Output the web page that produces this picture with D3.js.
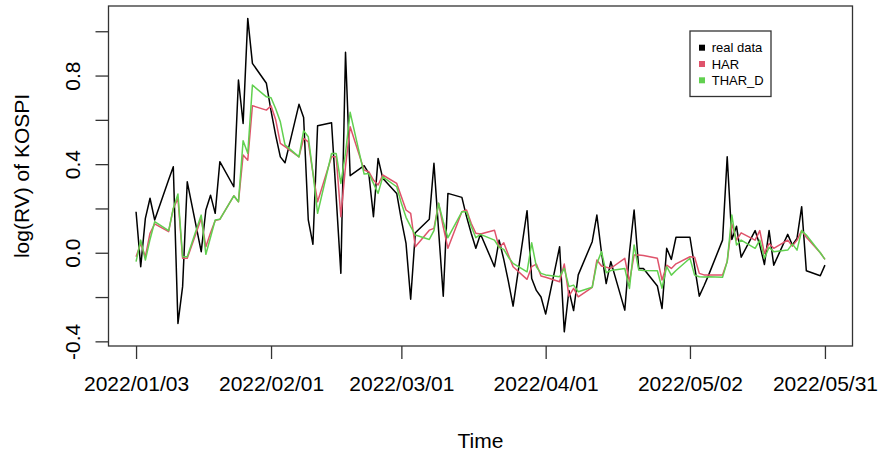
<!DOCTYPE html>
<html>
<head>
<meta charset="utf-8">
<script src="https://cdn.jsdelivr.net/npm/d3@7"></script>
<style>
  body { margin: 0; background: #fff; }
  text { font-family: "Liberation Sans", Arial, sans-serif; fill: #000; }
</style>
</head>
<body>
<div id="chart"></div>
<script>
"use strict";

// trading dates (all weekdays in the data set)
const dates = [
    "2022/01/03","2022/01/04","2022/01/05","2022/01/06","2022/01/07","2022/01/10","2022/01/11","2022/01/12","2022/01/13","2022/01/14",
    "2022/01/17","2022/01/18","2022/01/19","2022/01/20","2022/01/21","2022/01/24","2022/01/25","2022/01/26","2022/01/27","2022/01/28","2022/01/31",
    "2022/02/01","2022/02/02","2022/02/03","2022/02/04","2022/02/07","2022/02/08","2022/02/09","2022/02/10","2022/02/11","2022/02/14",
    "2022/02/15","2022/02/16","2022/02/17","2022/02/18","2022/02/21","2022/02/22","2022/02/23","2022/02/24","2022/02/25","2022/02/28",
    "2022/03/01","2022/03/02","2022/03/03","2022/03/04","2022/03/07","2022/03/08","2022/03/09","2022/03/10","2022/03/11","2022/03/14",
    "2022/03/15","2022/03/16","2022/03/17","2022/03/18","2022/03/21","2022/03/22","2022/03/23","2022/03/24","2022/03/25","2022/03/28",
    "2022/03/29","2022/03/30","2022/03/31",
    "2022/04/01","2022/04/04","2022/04/05","2022/04/06","2022/04/07","2022/04/08","2022/04/11","2022/04/12","2022/04/13","2022/04/14",
    "2022/04/15","2022/04/18","2022/04/19","2022/04/20","2022/04/21","2022/04/22","2022/04/25","2022/04/26","2022/04/27","2022/04/28","2022/04/29",
    "2022/05/02","2022/05/03","2022/05/04","2022/05/05","2022/05/06","2022/05/09","2022/05/10","2022/05/11","2022/05/12","2022/05/13",
    "2022/05/16","2022/05/17","2022/05/18","2022/05/19","2022/05/20","2022/05/23","2022/05/24","2022/05/25","2022/05/26","2022/05/27",
    "2022/05/30","2022/05/31"
];

// log(RV) series
const realData = [
    0.185, -0.063, 0.155, 0.246, 0.148, 0.33, 0.388, -0.319, -0.153, 0.32, 0.005, 0.193, 0.26, 0.178, 0.411, 0.298, 0.78, 0.584, 1.058, 0.855, 0.765,
    0.641, 0.53, 0.433, 0.406, 0.67, 0.611, 0.148, 0.038, 0.573, 0.587, 0.25, -0.093, 0.905, 0.348, 0.393, 0.358, 0.163, 0.426, 0.336, 0.268,
    0.148, 0.042, -0.21, 0.09, 0.151, 0.404, 0.1, -0.196, 0.268, 0.25, 0.163, 0.088, 0.02, 0.085, -0.063, 0.057, -0.03, -0.13, -0.241, 0.19, -0.116, -0.17, -0.2,
    -0.277, 0.027, -0.357, -0.17, -0.261, -0.1, 0.05, 0.17, 0.0, -0.139, -0.04, -0.259, 0.0, 0.193, -0.071, -0.071, -0.15, -0.252, 0.02, -0.03, 0.07,
    0.07, -0.063, -0.196, -0.15, -0.101, 0.057, 0.433, 0.06, 0.12, -0.02, 0.1, 0.035, -0.053, 0.1, -0.056, 0.083, 0.035, 0.065, 0.208, -0.081, -0.104, -0.056
];
const harData = [
    -0.018, 0.042, -0.018, 0.088, 0.13, 0.095, 0.2, 0.245, -0.025, -0.025, 0.155, 0.027, 0.09, 0.145, 0.151, 0.257, 0.23, 0.441, 0.418, 0.664, 0.644,
    0.664, 0.6, 0.494, 0.479, 0.433, 0.516, 0.501, 0.36, 0.23, 0.433, 0.433, 0.163, 0.39, 0.569, 0.373, 0.366, 0.328, 0.306, 0.351, 0.313,
    0.253, 0.193, 0.178, 0.027, 0.102, 0.11, 0.223, 0.117, 0.02, 0.185, 0.193, 0.133, 0.088, 0.085, 0.102, 0.024, 0.045, -0.01, -0.063, -0.12, -0.063, -0.051, -0.105,
    -0.111, -0.131, -0.051, -0.196, -0.161, -0.199, -0.156, -0.033, -0.06, -0.065, -0.07, -0.025, -0.131, -0.01, -0.01, -0.012, -0.025, -0.123, -0.056, -0.071, -0.05,
    -0.018, -0.02, -0.093, -0.1, -0.1, -0.1, -0.04, 0.13, 0.057, 0.09, 0.057, 0.1, -0.003, 0.042, 0.02, 0.057, 0.03, 0.057, 0.1, 0.07, 0.0, -0.03
];
const tharData = [
    -0.04, 0.057, -0.033, 0.06, 0.14, 0.10, 0.2, 0.265, -0.018, -0.018, 0.17, -0.007, 0.07, 0.148, 0.151, 0.257, 0.23, 0.506, 0.449, 0.757, 0.704,
    0.7, 0.65, 0.591, 0.487, 0.433, 0.551, 0.524, 0.36, 0.178, 0.448, 0.448, 0.313, 0.45, 0.634, 0.355, 0.358, 0.313, 0.268, 0.343, 0.298,
    0.223, 0.16, 0.118, 0.08, 0.06, 0.1, 0.223, 0.14, 0.068, 0.185, 0.185, 0.12, 0.068, 0.083, 0.057, 0.024, 0.015, -0.02, -0.048, -0.086, 0.045, -0.063, -0.093,
    -0.1, -0.108, -0.071, -0.153, -0.146, -0.176, -0.156, -0.048, 0.005, -0.09, -0.08, -0.071, -0.161, 0.035, -0.078, -0.08, -0.081, -0.16, -0.063, -0.101, -0.08,
    -0.025, -0.101, -0.108, -0.11, -0.108, -0.111, -0.04, 0.17, 0.035, 0.057, 0.02, 0.057, -0.025, 0.025, 0.005, 0.012, 0.04, 0.012, 0.1, 0.08, 0.0, -0.03
];

const seriesNames = ["real data", "HAR", "THAR_D"];
const seriesColors = ["#000000", "#DF536B", "#61D04F"];

// axis ticks
const xTickDates = ["2022/01/03", "2022/02/01", "2022/03/01", "2022/04/01", "2022/05/02", "2022/05/31"];
const yTicks = [-0.4, -0.2, 0.0, 0.2, 0.4, 0.6, 0.8, 1.0];
const yTickLabels = ["-0.4", "", "0.0", "", "0.4", "", "0.8", ""];

const msm = {
    width: 879,
    height: 454,
    left: 108.5,
    right: 852.5,
    top: 6,
    bottom: 346,
    fontSize: 21,
}

let parseDate = d3.timeParse("%Y/%m/%d");

let svg = d3.select("#chart")
    .append("svg")
    .attr("width", msm.width)
    .attr("height", msm.height);

// R style scales: data range plus 4% each side
let dateObjs = dates.map(parseDate);
let tExt = d3.extent(dateObjs);
let tPad = (tExt[1] - tExt[0]) * 0.04;
let xScale = d3.scaleTime()
    .domain([new Date(+tExt[0] - tPad), new Date(+tExt[1] + tPad)])
    .range([msm.left, msm.right]);

let yMin = -0.421, yMax = 1.114;
let yScale = d3.scaleLinear()
    .domain([yMin, yMax])
    .range([msm.bottom, msm.top]);

// series lines, drawn in the order real -> HAR -> THAR_D
let allSeries = [realData, harData, tharData];
let line = d3.line()
    .x((d, i) => xScale(dateObjs[i]))
    .y((d) => yScale(d));

svg.selectAll(".series")
    .data(allSeries)
    .enter()
    .append("path")
    .attr("class", "series")
    .attr("fill", "none")
    .attr("stroke", (d, i) => seriesColors[i])
    .attr("stroke-width", 1.5)
    .attr("stroke-linejoin", "round")
    .attr("d", line);

// frame
svg.append("rect")
    .attr("x", msm.left)
    .attr("y", msm.top)
    .attr("width", msm.right - msm.left)
    .attr("height", msm.bottom - msm.top)
    .attr("fill", "none")
    .attr("stroke", "#333")
    .attr("stroke-width", 1.3);

// x axis
let xAxis = d3.axisBottom(xScale)
    .tickValues(xTickDates.map(parseDate))
    .tickFormat(d3.timeFormat("%Y/%m/%d"))
    .tickSize(13)
    .tickPadding(17);
let gx = svg.append("g")
    .attr("transform", "translate(0," + msm.bottom + ")")
    .call(xAxis);
gx.select(".domain").remove();
gx.selectAll("line").attr("stroke", "#333").attr("stroke-width", 1.3);
gx.selectAll("text")
    .style("font-size", msm.fontSize + "px")
    .style("font-family", "Liberation Sans, Arial, sans-serif")
    .attr("fill", "#000");

// y axis (labels rotated like base R)
let yAxis = d3.axisLeft(yScale)
    .tickValues(yTicks)
    .tickFormat((d, i) => yTickLabels[i])
    .tickSize(13);
let gy = svg.append("g")
    .attr("transform", "translate(" + msm.left + ",0)")
    .call(yAxis);
gy.select(".domain").remove();
gy.selectAll("line").attr("stroke", "#333").attr("stroke-width", 1.3);
gy.selectAll("text")
    .attr("x", null)
    .attr("dy", null)
    .attr("text-anchor", "middle")
    .attr("transform", "translate(-29,0) rotate(-90)")
    .style("font-size", msm.fontSize + "px")
    .style("font-family", "Liberation Sans, Arial, sans-serif")
    .attr("fill", "#000");

// axis titles
svg.append("text")
    .attr("x", (msm.left + msm.right) / 2)
    .attr("y", 448)
    .attr("text-anchor", "middle")
    .style("font-size", msm.fontSize + "px")
    .text("Time");

svg.append("text")
    .attr("transform", "translate(29," + (msm.top + msm.bottom) / 2 + ") rotate(-90)")
    .attr("text-anchor", "middle")
    .style("font-size", msm.fontSize + "px")
    .text("log(RV) of KOSPI");

// legend
let legend = svg.append("g").attr("transform", "translate(690,31)");
legend.append("rect")
    .attr("width", 81)
    .attr("height", 65.5)
    .attr("fill", "#fff")
    .attr("stroke", "#333")
    .attr("stroke-width", 1.3);
let items = legend.selectAll(".item")
    .data(seriesNames)
    .enter()
    .append("g")
    .attr("class", "item")
    .attr("transform", (d, i) => "translate(0," + (16.7 + i * 16.3) + ")");
items.append("rect")
    .attr("x", 9)
    .attr("y", -3)
    .attr("width", 6)
    .attr("height", 6)
    .attr("fill", (d, i) => seriesColors[i]);
items.append("text")
    .attr("x", 21.7)
    .attr("y", 4.7)
    .style("font-size", "13px")
    .text((d) => d);
</script>
</body>
</html>
